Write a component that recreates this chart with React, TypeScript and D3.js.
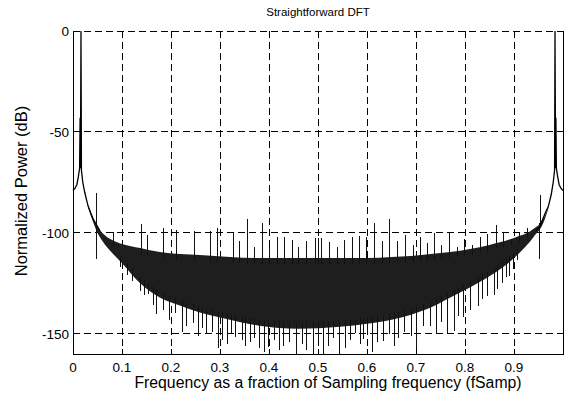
import React, { useEffect, useRef } from 'react';
import * as d3 from 'd3';

// (frequency as fraction of fs, power in dB)
const xTicks = [0, 0.1, 0.2, 0.3, 0.4, 0.5, 0.6, 0.7, 0.8, 0.9];
const yTicks = [0, -50, -100, -150];

// skirt + main peak near DC
const leftTraceF = [0, 0.004, 0.008, 0.011, 0.0135, 0.0145, 0.0152, 0.0163, 0.0172, 0.02, 0.024, 0.03, 0.036, 0.041, 0.048, 0.055];
const leftTraceDb = [-79, -78, -76, -72, -68, -43, -68, 0, -69, -75, -80, -86, -90, -93, -96, -99];

// skirt + mirrored peak near fs
const rightTraceF = [0.945, 0.952, 0.959, 0.964, 0.97, 0.976, 0.98, 0.9828, 0.9837, 0.9848, 0.9855, 0.9865, 0.989, 0.992, 0.996, 1.0];
const rightTraceDb = [-99, -97, -93, -90, -87, -81, -75, -69, 0, -68, -43, -68, -72, -76, -78, -79];

// dense noise floor band (top and bottom of the solid black mass)
const envF = [0.03, 0.04, 0.05, 0.06, 0.08, 0.1, 0.137, 0.177, 0.218, 0.259, 0.32, 0.38, 0.46, 0.545, 0.6, 0.65, 0.69, 0.73, 0.77, 0.81, 0.85, 0.9, 0.94, 0.96, 0.97];
const envTop = [-86, -92, -97, -100, -103.5, -105.5, -107.5, -109.5, -110.5, -111, -112, -112.5, -112.5, -112.5, -112.5, -112, -111.5, -110.5, -109.5, -108, -106, -102.5, -98, -93, -87];
const envBottom = [-87, -94, -100, -104, -110, -115, -125, -132, -136, -139.5, -143, -146, -147.5, -146.5, -145, -143, -140.5, -137, -132, -127, -121.5, -112.5, -102, -95, -88];

// spikes poking above the band
const upF = [0.047, 0.082, 0.139, 0.151, 0.184, 0.21, 0.247, 0.28, 0.294, 0.327, 0.339, 0.355, 0.37, 0.386, 0.4, 0.416, 0.431, 0.447, 0.46, 0.476, 0.494, 0.5, 0.506, 0.522, 0.538, 0.553, 0.569, 0.584, 0.598, 0.614, 0.631, 0.645, 0.661, 0.678, 0.693, 0.708, 0.722, 0.737, 0.752, 0.767, 0.783, 0.798, 0.814, 0.831, 0.845, 0.863, 0.878, 0.893, 0.91, 0.927, 0.953];
const upDb = [-80, -99.5, -95.5, -101, -97.5, -98.5, -99, -99, -97.5, -100, -104, -93, -107, -95, -107, -102, -102, -103.5, -107, -104, -102.5, -102.5, -102.5, -104.5, -107, -103.5, -102, -101.5, -102, -95, -104, -93, -104, -101, -106, -102, -105, -100, -106, -100, -107, -103, -106, -102, -100.5, -96, -100, -103, -100, -97.5, -81];

// spikes reaching below the band
const downF = [0.047, 0.096, 0.11, 0.12, 0.137, 0.145, 0.153, 0.163, 0.17, 0.184, 0.195, 0.208, 0.222, 0.23, 0.245, 0.255, 0.263, 0.272, 0.284, 0.296, 0.304, 0.315, 0.322, 0.331, 0.345, 0.352, 0.361, 0.37, 0.38, 0.39, 0.398, 0.41, 0.42, 0.429, 0.44, 0.455, 0.467, 0.475, 0.49, 0.5, 0.51, 0.52, 0.53, 0.543, 0.555, 0.565, 0.576, 0.585, 0.592, 0.6, 0.61, 0.62, 0.633, 0.645, 0.655, 0.663, 0.675, 0.69, 0.7, 0.715, 0.729, 0.74, 0.75, 0.763, 0.778, 0.785, 0.796, 0.81, 0.827, 0.835, 0.845, 0.859, 0.865, 0.876, 0.883, 0.89, 0.898, 0.906, 0.951];
const downDb = [-113, -117, -121, -124, -129, -131, -130.5, -135.5, -140, -138, -143, -139.5, -149, -146, -144.5, -151, -147, -150, -149, -157, -153, -155, -150, -151.5, -153, -156, -154, -152, -157, -159, -156.5, -153, -158, -156, -154, -160, -155, -158, -160, -153, -160, -156, -152, -160, -157, -153, -149.5, -155, -152.5, -150, -159, -154, -153.5, -150, -156, -152, -149, -151, -158.5, -146, -146, -150, -144, -149.5, -148.5, -141, -141.5, -138, -136, -133, -131.5, -131, -128, -125, -122, -121.5, -118, -113.5, -113];

const W = 570;
const H = 402;
const FONT = '"Liberation Sans", Arial, Helvetica, sans-serif';

export default function App() {
  const ref = useRef<SVGSVGElement>(null);

  useEffect(() => {
    const svg = d3.select(ref.current);
    svg.selectAll('*').remove();

    const left = 73, right = 563, top = 31, bottom = 354;
    const x = d3.scaleLinear().domain([0, 1]).range([left, right]);
    const y = d3.scaleLinear().domain([-160, 0]).range([bottom, top]);
    const px = (f: number) => Math.round(x(f)) + 0.5;

    svg.append('rect').attr('width', W).attr('height', H).attr('fill', '#fff');

    // grid
    const grid = svg.append('g').attr('stroke', '#000').attr('stroke-width', 1)
      .attr('stroke-dasharray', '7,4').attr('shape-rendering', 'crispEdges');
    xTicks.filter(t => t > 0).forEach(t => {
      grid.append('line').attr('x1', px(t)).attr('x2', px(t)).attr('y1', top).attr('y2', bottom);
    });
    yTicks.forEach(t => {
      grid.append('line').attr('x1', left).attr('x2', right).attr('y1', y(t)).attr('y2', y(t));
    });

    // data
    const topAt = d3.scaleLinear().domain(envF).range(envTop).clamp(true);
    const botAt = d3.scaleLinear().domain(envF).range(envBottom).clamp(true);

    const band = d3.area<number>()
      .x(d => x(d))
      .y0((d, i) => y(envBottom[i]))
      .y1((d, i) => y(envTop[i]))
      .curve(d3.curveMonotoneX);
    svg.append('path').datum(envF).attr('d', band).attr('fill', '#1e1e1e');

    const spikes = svg.append('g').attr('stroke', '#111').attr('stroke-width', 1)
      .attr('shape-rendering', 'crispEdges');
    upF.forEach((f, i) => {
      spikes.append('line')
        .attr('x1', px(f)).attr('x2', px(f))
        .attr('y1', y(upDb[i])).attr('y2', y(topAt(f) - 3));
    });
    downF.forEach((f, i) => {
      spikes.append('line')
        .attr('x1', px(f)).attr('x2', px(f))
        .attr('y1', y(botAt(f) + 3)).attr('y2', y(downDb[i]));
    });

    const line = d3.line<number[]>().x(d => x(d[0])).y(d => y(d[1]));
    const leftPts = leftTraceF.map((f, i) => [f, leftTraceDb[i]]);
    const rightPts = rightTraceF.map((f, i) => [f, rightTraceDb[i]]);
    [leftPts, rightPts].forEach(pts => {
      svg.append('path').attr('d', line(pts)).attr('fill', 'none')
        .attr('stroke', '#000').attr('stroke-width', 1.3);
    });

    // axes box (top edge is just the dashed 0 dB grid line)
    const axes = svg.append('g').attr('stroke', '#000').attr('stroke-width', 1).attr('fill', 'none')
      .attr('shape-rendering', 'crispEdges');
    axes.append('path').attr('d', `M${left + 0.5},${top}V${bottom + 0.5}H${right + 0.5}V${top}`);
    const tl = 5;
    xTicks.forEach(t => {
      axes.append('line').attr('x1', px(t)).attr('x2', px(t)).attr('y1', bottom).attr('y2', bottom - tl);
      axes.append('line').attr('x1', px(t)).attr('x2', px(t)).attr('y1', top).attr('y2', top + tl);
    });
    yTicks.forEach(t => {
      axes.append('line').attr('x1', left).attr('x2', left + tl).attr('y1', y(t)).attr('y2', y(t));
      axes.append('line').attr('x1', right).attr('x2', right - tl).attr('y1', y(t)).attr('y2', y(t));
    });

    // tick labels
    const txt = svg.append('g').attr('font-family', FONT).attr('fill', '#000');
    xTicks.forEach(t => {
      txt.append('text').attr('x', x(t)).attr('y', 372).attr('text-anchor', 'middle')
        .attr('font-size', 13.5).text(String(t));
    });
    yTicks.forEach(t => {
      txt.append('text').attr('x', left - 4).attr('y', y(t) + 5).attr('text-anchor', 'end')
        .attr('font-size', 13.5).text(String(t));
    });

    txt.append('text').attr('x', 328).attr('y', 388).attr('text-anchor', 'middle')
      .attr('font-size', 15.8).text('Frequency as a fraction of Sampling frequency (fSamp)');
    txt.append('text').attr('transform', 'translate(27,191) rotate(-90)')
      .attr('text-anchor', 'middle').attr('font-size', 16.5).text('Normalized Power (dB)');
    txt.append('text').attr('x', 318).attr('y', 16).attr('text-anchor', 'middle')
      .attr('font-size', 11.5).text('Straightforward DFT');
  }, []);

  return <svg ref={ref} width={W} height={H} style={{ position: 'absolute', left: 0, top: 0 }} />;
}
